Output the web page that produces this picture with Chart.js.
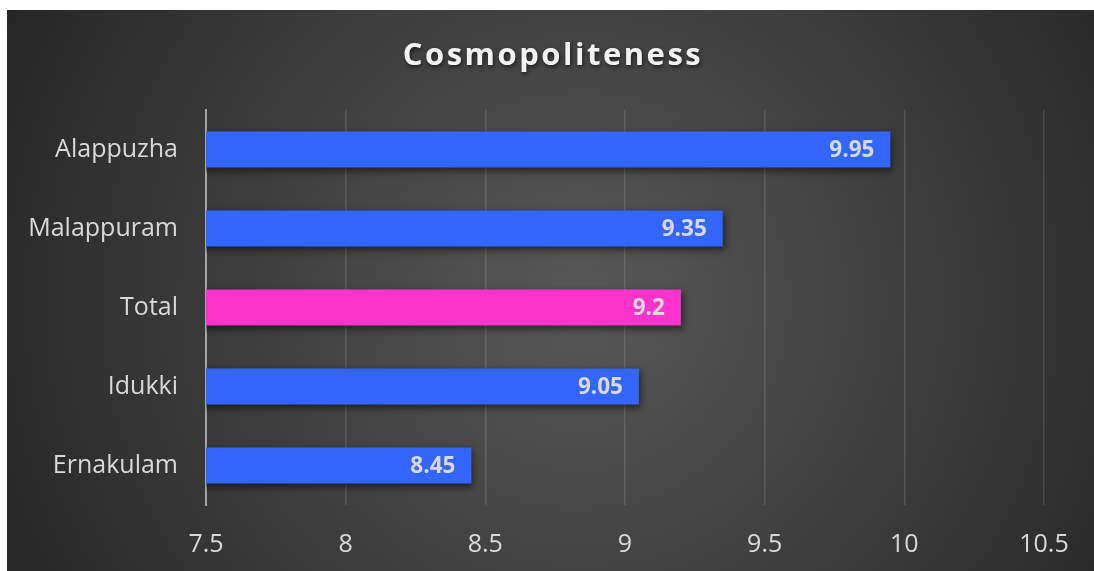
<!DOCTYPE html>
<html>
<head>
<meta charset="utf-8">
<script src="https://cdn.jsdelivr.net/npm/chart.js@4.4.1/dist/chart.umd.min.js"></script>
<style>
html,body{margin:0;padding:0;background:#fff;}
#wrap{width:1094px;height:571px;position:relative;}
</style>
</head>
<body>
<div id="wrap"><canvas id="c" width="1094" height="571"></canvas></div>
<script>
const titleText = "Cosmopoliteness";
const categories = ["Alappuzha", "Malappuram", "Total", "Idukki", "Ernakulam"];
const values = [9.95, 9.35, 9.2, 9.05, 8.45];
const barColors = ["#3366FF", "#3366FF", "#FF33CC", "#3366FF", "#3366FF"];
const xTicks = [7.5, 8, 8.5, 9, 9.5, 10, 10.5];

const FONT = "'Open Sans', 'Liberation Sans', sans-serif";

const bgPlugin = {
  id: 'bg',
  beforeDraw(chart) {
    const ctx = chart.ctx;
    const W = chart.width, H = chart.height;
    ctx.save();
    ctx.fillStyle = '#ffffff';
    ctx.fillRect(0, 0, W, H);
    const g = ctx.createRadialGradient(580, 300, 0, 580, 300, 640);
    g.addColorStop(0, '#585858');
    g.addColorStop(1, '#262626');
    ctx.fillStyle = g;
    ctx.fillRect(7, 10, W - 7, H - 10);
    ctx.restore();
  },
  afterDraw(chart) {
    const ctx = chart.ctx;
    ctx.save();
    ctx.font = "bold 31px " + FONT;
    ctx.letterSpacing = '2.5px';
    ctx.textAlign = 'center';
    ctx.textBaseline = 'alphabetic';
    ctx.shadowColor = 'rgba(0,0,0,0.6)';
    ctx.shadowBlur = 4;
    ctx.shadowOffsetX = 1;
    ctx.shadowOffsetY = 2;
    ctx.fillStyle = '#f2f2f2';
    ctx.fillText(titleText, 553, 65);
    ctx.restore();
  }
};

const shadowPlugin = {
  id: 'barShadow',
  beforeDatasetDraw(chart) {
    const ctx = chart.ctx;
    ctx.save();
    ctx.shadowColor = 'rgba(0,0,0,0.55)';
    ctx.shadowBlur = 7;
    ctx.shadowOffsetX = 2;
    ctx.shadowOffsetY = 3;
  },
  afterDatasetDraw(chart) {
    chart.ctx.restore();
  }
};

const labelPlugin = {
  id: 'valueLabels',
  afterDatasetsDraw(chart) {
    const ctx = chart.ctx;
    const meta = chart.getDatasetMeta(0);
    ctx.save();
    ctx.font = "bold 22.5px " + FONT;
    ctx.fillStyle = '#d9d9d9';
    ctx.textAlign = 'right';
    ctx.textBaseline = 'middle';
    meta.data.forEach((el, i) => {
      ctx.fillText(String(values[i]), el.x - 16, el.y + 1);
    });
    ctx.restore();
  }
};

new Chart(document.getElementById('c'), {
  type: 'bar',
  data: {
    labels: categories,
    datasets: [{
      data: values,
      backgroundColor: barColors,
      borderWidth: 0,
      categoryPercentage: 1,
      barPercentage: 0.456
    }]
  },
  options: {
    indexAxis: 'y',
    responsive: false,
    animation: false,
    devicePixelRatio: 1,
    layout: { padding: { left: 0, top: 110, right: 50, bottom: 0 } },
    plugins: {
      legend: { display: false },
      tooltip: { enabled: false },
      title: { display: false }
    },
    scales: {
      x: {
        min: 7.5,
        max: 10.5,
        afterFit(s) { s.height = 66; },
        afterBuildTicks(s) { s.ticks = xTicks.map(v => ({ value: v })); },
        grid: { color: 'rgba(255,255,255,0.13)', lineWidth: 1.5, drawTicks: false },
        border: { display: false },
        ticks: {
          color: '#d9d9d9',
          font: { family: FONT, size: 25 },
          padding: 25,
          maxRotation: 0,
          callback: (v) => String(v)
        }
      },
      y: {
        afterFit(s) { s.width = 206; },
        grid: { display: false, drawTicks: false },
        border: { display: true, color: '#a6a6a6', width: 2 },
        ticks: {
          color: '#d9d9d9',
          font: { family: FONT, size: 25 },
          padding: 28
        }
      }
    }
  },
  plugins: [bgPlugin, shadowPlugin, labelPlugin]
});
</script>
</body>
</html>
